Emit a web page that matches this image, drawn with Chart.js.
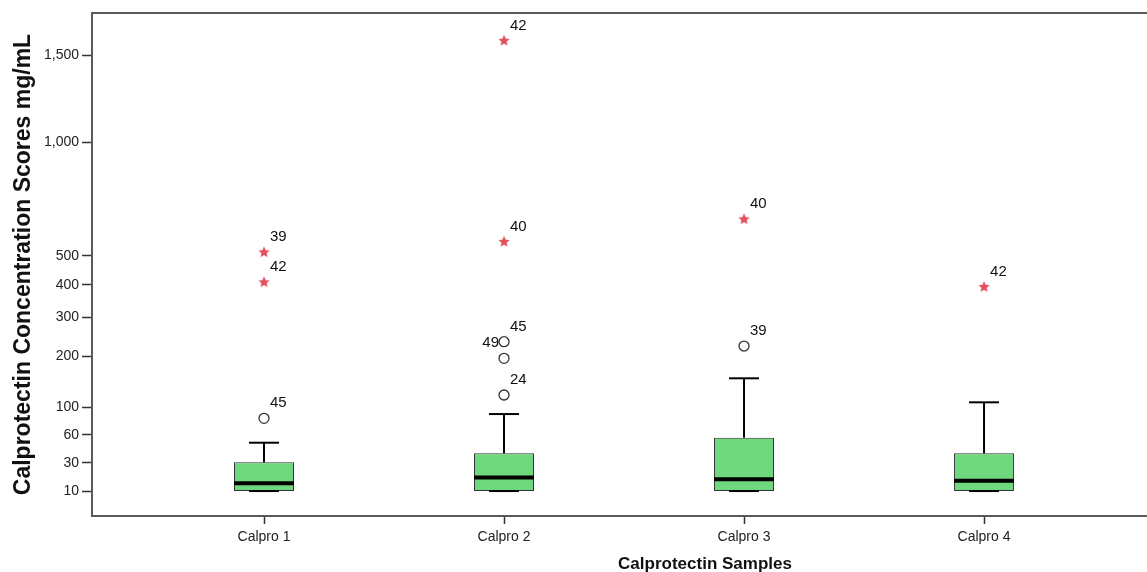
<!DOCTYPE html>
<html>
<head>
<meta charset="utf-8">
<script src="https://cdn.jsdelivr.net/npm/chart.js@4.4.1/dist/chart.umd.min.js"></script>
<style>
  html, body { margin: 0; padding: 0; background: #ffffff; }
  canvas { display: block; }
</style>
</head>
<body>
<canvas id="chart" width="1147" height="572"></canvas>
<script>
// ---- data ----
const samples = ['Calpro 1', 'Calpro 2', 'Calpro 3', 'Calpro 4'];
const whiskerLow  = [10, 10, 10, 10];
const quartile1   = [10, 10, 10, 10];
const medians     = [14.4, 18.3, 17.0, 16.0];
const quartile3   = [30.3, 38.9, 56.5, 38.9];
const whiskerHigh = [50.5, 89.2, 152.8, 108.2];

// outliers (circles): sample index, value, case number
const outlierSample = [0, 1, 1, 1, 2];
const outlierValue  = [82.7, 121, 195.7, 235.5, 224.8];
const outlierCase   = ['45', '24', '49', '45', '39'];

// extreme values (stars)
const extremeSample = [0, 0, 1, 1, 2, 3];
const extremeValue  = [512.5, 407.7, 552, 1592, 641.6, 392.4];
const extremeCase   = ['39', '42', '40', '42', '40', '42'];

const yTickValues = [10, 30, 60, 100, 200, 300, 400, 500, 1000, 1500];

// which side of the marker each circle's case label sits on
const outlierLabelSide = ['right', 'right', 'left', 'right', 'right'];

// ---- square-root value axis ----
class SqrtScale extends Chart.LinearScale {
  getPixelForValue(value) {
    if (value === null || value === undefined || isNaN(value)) return NaN;
    const a = Math.sqrt(this.min), b = Math.sqrt(this.max);
    return this.getPixelForDecimal((Math.sqrt(Math.max(value, 0)) - a) / (b - a));
  }
  getValueForPixel(pixel) {
    const a = Math.sqrt(this.min), b = Math.sqrt(this.max);
    const s = a + this.getDecimalForPixel(pixel) * (b - a);
    return s * s;
  }
}
SqrtScale.id = 'sqrt';
Chart.register(SqrtScale);

const SANS = "'Liberation Sans', Arial, sans-serif";

// ---- marker for extreme values ----
function starMarker(r, color) {
  const c = document.createElement('canvas');
  const s = Math.ceil(r * 2 + 2);
  c.width = s; c.height = s;
  const g = c.getContext('2d');
  g.fillStyle = color;
  g.beginPath();
  for (let k = 0; k < 10; k++) {
    const rad = k % 2 ? r * 0.45 : r;
    const ang = -Math.PI / 2 + k * Math.PI / 5;
    g.lineTo(s / 2 + rad * Math.cos(ang), s / 2 + rad * Math.sin(ang));
  }
  g.closePath();
  g.fill();
  return c;
}
const star = starMarker(6, '#e34f5b');

// ---- whiskers, caps and medians on top of the boxes ----
const boxParts = {
  id: 'boxParts',
  afterDatasetDraw(chart, args) {
    if (args.index !== 0) return;
    const { ctx, scales: { x, y } } = chart;
    const bars = chart.getDatasetMeta(0).data;
    const seg = (x1, y1, x2, y2) => { ctx.beginPath(); ctx.moveTo(x1, y1); ctx.lineTo(x2, y2); ctx.stroke(); };
    ctx.save();
    ctx.strokeStyle = '#000';
    samples.forEach((_, i) => {
      const cx = x.getPixelForValue(i + 1);
      const half = bars[i].width / 2;
      const cap = half / 2;
      const yQ1 = y.getPixelForValue(quartile1[i]);
      const yQ3 = y.getPixelForValue(quartile3[i]);
      const yLo = y.getPixelForValue(whiskerLow[i]);
      const yHi = y.getPixelForValue(whiskerHigh[i]);
      const yMed = y.getPixelForValue(medians[i]);
      ctx.lineWidth = 2;
      seg(cx, yQ3, cx, yHi);
      seg(cx - cap, yHi, cx + cap, yHi);
      seg(cx, yQ1, cx, yLo);
      seg(cx - cap, yLo, cx + cap, yLo);
      ctx.lineWidth = 4;
      seg(cx - half, yMed, cx + half, yMed);
    });
    ctx.restore();
  }
};

// horizontal centre of the x-axis title
const xTitleCenter = 705;

// ---- case-number labels beside outliers, top frame line, x-axis title ----
const annotations = {
  id: 'annotations',
  afterDatasetsDraw(chart) {
    const { ctx } = chart;
    ctx.save();
    ctx.font = `15px ${SANS}`;
    ctx.fillStyle = '#111';
    ctx.textBaseline = 'middle';
    const put = (dsIndex, cases, sides) => {
      chart.getDatasetMeta(dsIndex).data.forEach((pt, k) => {
        const left = sides && sides[k] === 'left';
        ctx.textAlign = left ? 'right' : 'left';
        ctx.fillText(cases[k], pt.x + (left ? -5 : 6), pt.y - 15);
      });
    };
    put(1, outlierCase, outlierLabelSide);
    put(2, extremeCase, null);
    ctx.restore();
  },
  afterDraw(chart) {
    const { ctx, chartArea: a } = chart;
    ctx.save();
    ctx.strokeStyle = '#5a5a5a';
    ctx.lineWidth = 2;
    ctx.beginPath();
    ctx.moveTo(a.left - 1, a.top);
    ctx.lineTo(chart.width, a.top);
    ctx.stroke();
    ctx.font = `bold 17px ${SANS}`;
    ctx.fillStyle = '#111';
    ctx.textAlign = 'center';
    ctx.textBaseline = 'alphabetic';
    ctx.fillText('Calprotectin Samples', xTitleCenter, 569);
    ctx.restore();
  }
};

// ---- category placement on the horizontal axis ----
const xMin = 0.2833;
const xMax = 4.679;

new Chart(document.getElementById('chart'), {
  type: 'bar',
  data: {
    datasets: [
      {
        type: 'bar',
        data: samples.map((_, i) => ({ x: i + 1, y: [quartile1[i], quartile3[i]] })),
        backgroundColor: '#6fd87e',
        borderColor: '#333333',
        borderWidth: 1,
        borderSkipped: false,
        barPercentage: 0.25,
        categoryPercentage: 1,
        order: 2
      },
      {
        type: 'scatter',
        data: outlierValue.map((v, k) => ({ x: outlierSample[k] + 1, y: v })),
        pointStyle: 'circle',
        pointRadius: 5,
        pointBorderColor: '#333333',
        pointBorderWidth: 1.3,
        pointBackgroundColor: 'rgba(255,255,255,0)',
        order: 1
      },
      {
        type: 'scatter',
        data: extremeValue.map((v, k) => ({ x: extremeSample[k] + 1, y: v })),
        pointStyle: star,
        pointRadius: 6,
        order: 1
      }
    ]
  },
  options: {
    responsive: false,
    devicePixelRatio: 1,
    animation: false,
    events: [],
    layout: { autoPadding: false, padding: { top: 13, right: 0, left: 0, bottom: 0 } },
    plugins: { legend: { display: false }, tooltip: { enabled: false } },
    scales: {
      x: {
        type: 'linear',
        bounds: 'data',
        offset: false,
        min: xMin,
        max: xMax,
        afterBuildTicks: s => { s.ticks = samples.map((_, i) => ({ value: i + 1 })); },
        afterFit: s => { s.height = 56; },
        ticks: {
          callback: v => samples[v - 1],
          autoSkip: false,
          maxRotation: 0,
          color: '#222',
          padding: 5,
          font: { family: SANS, size: 14 }
        },
        grid: { drawOnChartArea: false, offset: false, tickLength: 8, color: '#333', tickWidth: 1.5 },
        border: { color: '#5a5a5a', width: 2 },
        title: { display: false }
      },
      y: {
        type: 'sqrt',
        bounds: 'data',
        min: 1.27,
        max: 1778,
        afterBuildTicks: s => { s.ticks = yTickValues.map(v => ({ value: v })); },
        afterFit: s => { s.width = 92; },
        ticks: {
          callback: v => v.toLocaleString('en-US'),
          color: '#222',
          padding: 3,
          font: { family: SANS, size: 14 }
        },
        grid: { drawOnChartArea: false, tickLength: 10, color: '#333', tickWidth: 1.5 },
        border: { color: '#5a5a5a', width: 2 },
        title: {
          display: true,
          text: 'Calprotectin Concentration Scores mg/mL',
          color: '#111',
          font: { family: SANS, size: 23, weight: 'bold' },
          padding: { top: 10, bottom: 0 }
        }
      }
    }
  },
  plugins: [boxParts, annotations]
});
</script>
</body>
</html>
